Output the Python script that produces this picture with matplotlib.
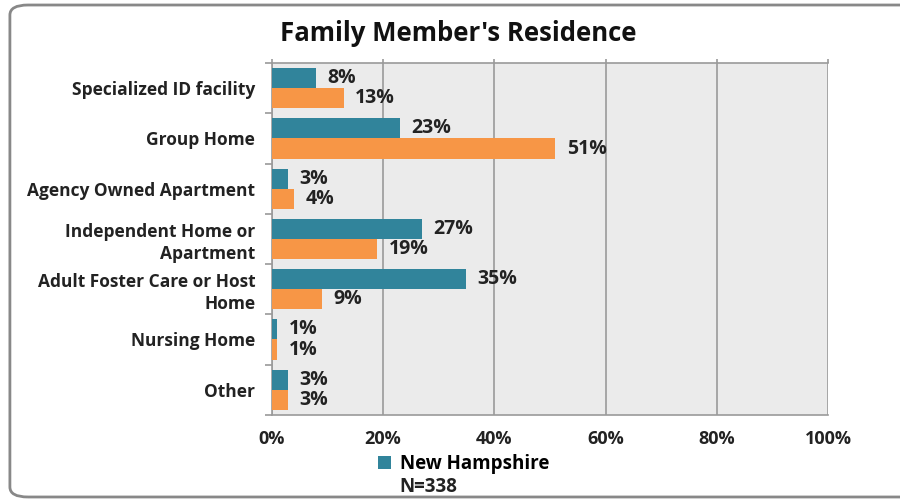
import numpy as np
from matplotlib import pyplot as plt
from matplotlib.patches import FancyBboxPatch

categories = ['Specialized ID facility', 'Group Home', 'Agency Owned Apartment',
              'Independent Home or\nApartment', 'Adult Foster Care or Host\nHome',
              'Nursing Home', 'Other']
nh_values = [8, 23, 3, 27, 35, 1, 3]
other_values = [13, 51, 4, 19, 9, 1, 3]
x_ticks = [0, 20, 40, 60, 80, 100]

teal = '#31849B'
orange = '#F79646'

plt.rcParams['font.family'] = ['Open Sans', 'DejaVu Sans']

fig = plt.figure(figsize=(9, 5.01), dpi=100)
border = FancyBboxPatch((0.011, 0.008), 1.2, 0.982, boxstyle='round,pad=0,rounding_size=0.02',
                        transform=fig.transFigure, facecolor='none', edgecolor='#888888',
                        linewidth=2, zorder=0)
fig.patches.append(border)

ax = fig.add_axes([0.302, 0.172, 0.618, 0.702])
ax.set_facecolor('#EBEBEB')

y = np.arange(len(categories))
h = 0.4
ax.barh(y - h / 2, nh_values, height=h, color=teal, label='New Hampshire', zorder=3)
ax.barh(y + h / 2, other_values, height=h, color=orange, zorder=3)

for i in range(len(categories)):
    ax.text(nh_values[i] + 2, y[i] - h / 2, f'{nh_values[i]}%', va='center', ha='left',
            fontsize=14, fontweight='bold', color='#222222', zorder=4)
    ax.text(other_values[i] + 2, y[i] + h / 2, f'{other_values[i]}%', va='center', ha='left',
            fontsize=14, fontweight='bold', color='#222222', zorder=4)

ax.set_xlim(0, 100)
ax.set_ylim(len(categories) - 0.5, -0.5)
ax.set_xticks(x_ticks)
ax.set_xticklabels([f'{t}%' for t in x_ticks], fontsize=13, fontweight='bold', color='#222222')
ax.tick_params(axis='x', bottom=False, top=True, labeltop=False, length=3,
               color='#9A9A9A', width=1.2, pad=8)
ax.grid(axis='x', color='#9A9A9A', linewidth=1.2, zorder=1)

ax.set_yticks(y)
ax.set_yticklabels(categories, fontsize=12.5, fontweight='bold', color='#222222', linespacing=1.3)
ax.tick_params(axis='y', length=0, pad=12)
ax.set_yticks(np.arange(len(categories) + 1) - 0.5, minor=True)
ax.tick_params(axis='y', which='minor', length=5, color='#9A9A9A', width=1.2)

for side in ['left', 'top', 'bottom', 'right']:
    ax.spines[side].set_color('#9A9A9A')
    ax.spines[side].set_linewidth(1.2)
ax.spines['right'].set_visible(False)

fig.text(0.509, 0.933, "Family Member's Residence", ha='center', va='center',
         fontsize=18.5, fontweight='bold', color='#111111')

fig.legend(loc='center', bbox_to_anchor=(0.515, 0.074), frameon=False,
           prop={'weight': 'bold', 'size': 13.5}, handlelength=0.7, handleheight=0.7,
           handletextpad=0.5)
fig.text(0.444, 0.027, 'N=338', ha='left', va='center', fontsize=13.5, fontweight='bold',
         color='#222222')

fig.savefig('out.png', dpi=100)
